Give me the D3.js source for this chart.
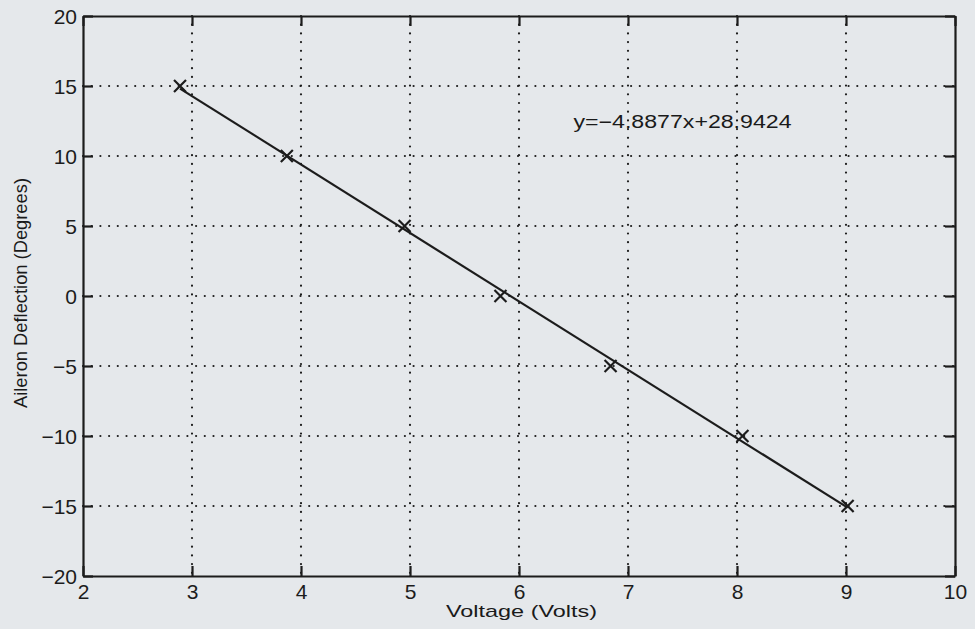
<!DOCTYPE html>
<html>
<head>
<meta charset="utf-8">
<script src="https://cdn.jsdelivr.net/npm/d3@7"></script>
<style>
  body { margin: 0; background: #e5e8eb; }
  svg { display: block; }
  text { font-family: "Liberation Sans", Arial, sans-serif; fill: #1a1a1a; }
</style>
</head>
<body>
<div id="chart"></div>
<script>
// measured points (volts vs deflection)
const voltage = [2.89, 3.87, 4.95, 5.83, 6.84, 8.05, 9.015];
const deflection = [15, 10, 5, 0, -5, -10, -15];
// least squares fit shown on plot
const slope = -4.8877;
const intercept = 28.9424;
const fitLabel = "y=\u22124.8877x+28.9424";
const xTicks = [2, 3, 4, 5, 6, 7, 8, 9, 10];
const yTicks = [-20, -15, -10, -5, 0, 5, 10, 15, 20];

const width = 975, height = 629;
const margin = {left: 83, right: 20, top: 16, bottom: 53};

const svg = d3.select('#chart').append('svg')
  .attr('width', width)
  .attr('height', height);

svg.append('rect').attr('width', width).attr('height', height).attr('fill', '#e5e8eb');

const x = d3.scaleLinear().domain([2, 10]).range([margin.left, width - margin.right]);
const y = d3.scaleLinear().domain([-20, 20]).range([height - margin.bottom, margin.top]);

const ink = '#1c1c1c';
const font = '"Liberation Sans", Arial, sans-serif';

// dotted grid
svg.append('g').selectAll('line')
  .data(xTicks.slice(1, -1))
  .enter().append('line')
  .attr('x1', d => x(d)).attr('x2', d => x(d))
  .attr('y1', y(20)).attr('y2', y(-20))
  .attr('stroke', ink).attr('stroke-width', 2.2)
  .attr('stroke-linecap', 'round')
  .attr('stroke-dasharray', '0,8.7');

svg.append('g').selectAll('line')
  .data(yTicks.slice(1, -1))
  .enter().append('line')
  .attr('y1', d => y(d)).attr('y2', d => y(d))
  .attr('x1', x(2)).attr('x2', x(10))
  .attr('stroke', ink).attr('stroke-width', 2.2)
  .attr('stroke-linecap', 'round')
  .attr('stroke-dasharray', '0,8.7');

// axes with inward ticks on all sides
const tk = 10;
const axB = svg.append('g').attr('transform', `translate(0,${y(-20)})`)
  .call(d3.axisBottom(x).tickValues(xTicks).tickSizeInner(-tk).tickSizeOuter(0).tickPadding(8));
const axT = svg.append('g').attr('transform', `translate(0,${y(20)})`)
  .call(d3.axisTop(x).tickValues(xTicks).tickSizeInner(-tk).tickSizeOuter(0).tickFormat(''));
const axL = svg.append('g').attr('transform', `translate(${x(2)},0)`)
  .call(d3.axisLeft(y).tickValues(yTicks).tickSizeInner(-tk).tickSizeOuter(0).tickPadding(6)
    .tickFormat(d => d < 0 ? '\u2212' + Math.abs(d) : d));
const axR = svg.append('g').attr('transform', `translate(${x(10)},0)`)
  .call(d3.axisRight(y).tickValues(yTicks).tickSizeInner(-tk).tickSizeOuter(0).tickFormat(''));

[axB, axT, axL, axR].forEach(a => {
  a.attr('font-size', null).attr('font-family', null);
  a.select('.domain').attr('stroke', ink).attr('stroke-width', 2.2);
  a.selectAll('.tick line').attr('stroke', ink).attr('stroke-width', 2.2);
  a.selectAll('.tick text')
    .style('font-size', '21px')
    .style('font-family', font)
    .style('fill', ink);
});
axL.selectAll('.tick text').attr('dy', '0.36em');

// fitted line across the data range
const xr = d3.extent(voltage);
svg.append('line')
  .attr('x1', x(xr[0])).attr('y1', y(slope * xr[0] + intercept))
  .attr('x2', x(xr[1])).attr('y2', y(slope * xr[1] + intercept))
  .attr('stroke', ink).attr('stroke-width', 2.2);

// x markers
const m = 6;
svg.append('g').selectAll('path')
  .data(voltage.map((v, i) => [v, deflection[i]]))
  .enter().append('path')
  .attr('d', d => {
    const px = x(d[0]), py = y(d[1]);
    return `M${px - m},${py - m}L${px + m},${py + m}M${px - m},${py + m}L${px + m},${py - m}`;
  })
  .attr('stroke', ink).attr('stroke-width', 2.2).attr('fill', 'none');

// equation label
svg.append('text')
  .attr('x', x(6.5)).attr('y', 128)
  .attr('font-size', 18)
  .attr('textLength', 218).attr('lengthAdjust', 'spacingAndGlyphs')
  .text(fitLabel);

// axis titles
svg.append('text')
  .attr('x', 446).attr('y', 617)
  .attr('font-size', 17)
  .attr('textLength', 151).attr('lengthAdjust', 'spacingAndGlyphs')
  .text('Voltage (Volts)');

svg.append('text')
  .attr('transform', `translate(27,408) rotate(-90)`)
  .attr('font-size', 19)
  .attr('textLength', 230).attr('lengthAdjust', 'spacingAndGlyphs')
  .text('Aileron Deflection (Degrees)');
</script>
</body>
</html>
